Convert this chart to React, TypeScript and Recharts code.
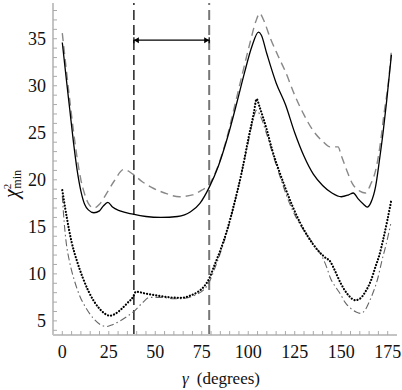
import { LineChart, Line, XAxis, YAxis, ReferenceLine, Label } from 'recharts'

// gamma (degrees) / chi^2_min readings, one pair of arrays per curve
const solidGamma = [0, 2, 4, 6, 8, 10, 12, 14, 17, 20, 22, 24.5, 27, 31, 38, 45, 53, 62, 69, 74, 79, 84, 89, 94, 98, 102, 105.5, 107, 110, 115, 120, 125, 130, 135, 140, 145, 150, 154, 156.5, 159, 162, 164, 166, 168.5, 170.5, 172.5, 174.5, 177]
const solidChi = [34.6, 31, 27.5, 24, 21, 18.8, 17.4, 16.8, 16.5, 16.7, 17.2, 17.6, 17.1, 16.7, 16.35, 16.1, 16.0, 16.1, 16.6, 17.5, 19.2, 21.5, 24.6, 28.3, 31.4, 34.2, 35.7, 35.4, 33.4, 30.3, 28.0, 25.0, 22.5, 20.6, 19.4, 18.6, 18.2, 18.4, 18.6, 18.0, 17.4, 17.1, 17.6, 19.3, 22, 25, 28.5, 33.3]

const dashedGamma = [0, 2, 4, 6, 8, 10, 12, 14, 17, 20, 24, 28, 33, 38, 43, 48, 55, 63, 70, 75, 79, 84, 88, 93, 97, 101, 104, 106.2, 108, 112, 116, 120, 125, 130, 135, 140, 144, 148.3, 150, 153, 156, 160, 163, 166, 168.5, 171, 173, 175.5, 177]
const dashedChi = [35.6, 32, 28.5, 25.2, 22.3, 20, 18.5, 17.5, 17.0, 17.4, 18.6, 19.9, 21.1, 20.6, 19.8, 19.2, 18.6, 18.2, 18.4, 18.9, 19.5, 21.6, 24.1, 28.1, 31.4, 34.6, 36.8, 37.7, 37.1, 35.0, 33.2, 31.5, 29.0, 26.9, 25.2, 24.1, 23.5, 23.5, 22.6, 21, 19.6, 18.8, 18.6, 19.6, 21, 23.8, 27, 30.6, 33.8]

const dottedGamma = [0, 2.5, 5, 8, 11, 14, 17, 20, 23, 25.5, 28, 32, 35, 38.2, 39.5, 45, 51, 58, 64, 69, 73, 76, 79, 82, 85, 88.7, 92, 96.8, 100.3, 103, 104.5, 106, 110, 113, 116.5, 120, 124, 128, 132, 137, 141, 144.5, 146, 150, 154, 157.5, 160, 163, 166, 168.5, 170.5, 172.5, 174.8, 177]
const dottedChi = [18.9, 15.9, 13.4, 11.3, 9.6, 8.2, 7.1, 6.3, 5.75, 5.55, 5.7, 6.3, 6.9, 7.6, 8.1, 7.9, 7.7, 7.5, 7.45, 7.7, 8.1, 8.6, 9.5, 11, 12.5, 14.7, 17.1, 21.1, 24.6, 27.1, 28.6, 27.8, 25.3, 23.1, 21.0, 19.1, 17.1, 15.4, 14, 12.6, 11.8, 11.2, 10.6, 8.9, 7.7, 7.2, 7.35, 8.1, 9.3, 10.8, 12, 13.6, 15.7, 17.9]

const dashDotGamma = [0, 1, 2, 4, 6.5, 9.5, 13, 17, 20.5, 23.5, 27, 31, 35, 38.5, 43, 47, 53, 60, 66, 72, 76, 79, 82, 85, 88.5, 92, 96.5, 100, 102.5, 104.5, 106.5, 110, 114, 118, 122, 126, 130, 135, 139.8, 142, 144.3, 147, 149.7, 152, 155, 158, 160.5, 163, 165, 167.5, 169.5, 172, 174, 176.6]
const dashDotChi = [18.3, 15.5, 13.5, 11.2, 9.3, 7.6, 6.3, 5.2, 4.6, 4.4, 4.6, 5.0, 5.5, 6.0, 6.9, 7.5, 7.5, 7.35, 7.4, 7.8, 8.3, 9.1, 10.6, 12.2, 14.4, 17, 20.8, 24, 26.3, 27.4, 26.8, 24.8, 22.2, 19.8, 17.6, 15.9, 14.6, 13.2, 11.8, 10.8, 9.5, 8.6, 7.8, 7, 6.35, 5.95, 5.8, 6.2, 7, 8.2, 9.4, 11.5, 13, 15.3]

// allowed band and its arrow
const bandLow = 38.5
const bandHigh = 79
const arrowChi = 34.85

const xLabelTicks = [0, 25, 50, 75, 100, 125, 150, 175]
const yLabelTicks = [5, 10, 15, 20, 25, 30, 35]
const xMinorTicks = Array.from({ length: 36 }, (_, i) => i * 5)
const yMinorTicks = Array.from({ length: 35 }, (_, i) => i + 4)

const rows = (gs: number[], cs: number[]) => gs.map((g, i) => ({ g, v: cs[i] }))

const frame = '#c4c4c4'
const serif = "'Times New Roman', 'Liberation Serif', 'DejaVu Serif', serif"

function ArrowShape(props: any) {
  const { x1, y1, x2 } = props
  const y = y1
  const h = 5
  const w = 3
  return (
    <g>
      <line x1={x1} y1={y} x2={x2} y2={y} stroke="#000" strokeWidth={1.2} />
      <path d={`M${x1},${y} L${x1 + h},${y - w} L${x1 + h},${y + w} Z`} fill="#000" />
      <path d={`M${x2},${y} L${x2 - h},${y - w} L${x2 - h},${y + w} Z`} fill="#000" />
      <line x1={x1} y1={y - 3} x2={x1} y2={y + 3} stroke="#000" strokeWidth={1.2} />
      <line x1={x2} y1={y - 3} x2={x2} y2={y + 3} stroke="#000" strokeWidth={1.2} />
    </g>
  )
}

const tickStyle = { fontSize: 18, fill: '#111', fontFamily: serif }

export default function App() {
  return (
    <div style={{ position: 'absolute', left: 0, top: 0, background: '#fff', fontFamily: serif }}>
      <LineChart width={402} height={390} margin={{ top: 3, right: 5, left: 0, bottom: 0 }} style={{ fontFamily: serif }}>
        <XAxis
          dataKey="g"
          type="number"
          domain={[-5, 180]}
          allowDataOverflow
          ticks={xMinorTicks}
          interval={0}
          tickFormatter={(v: number) => (xLabelTicks.includes(v) ? String(v) : '')}
          height={55}
          tickSize={-4}
          tickMargin={14}
          tick={tickStyle}
          axisLine={{ stroke: frame, strokeWidth: 2 }}
          tickLine={{ stroke: '#aaa' }}
        >
          <Label
            content={() => (
              <text x={221} y={384} textAnchor="middle" fontFamily={serif} fontSize={17} fill="#111">
                <tspan fontStyle="italic">γ</tspan>
                <tspan dx={8}>(degrees)</tspan>
              </text>
            )}
          />
        </XAxis>
        <XAxis
          xAxisId="top"
          orientation="top"
          type="number"
          domain={[-5, 180]}
          allowDataOverflow
          ticks={xMinorTicks}
          interval={0}
          tickFormatter={() => ''}
          height={0}
          mirror
          tickSize={3}
          axisLine={{ stroke: frame, strokeWidth: 2 }}
          tickLine={{ stroke: '#aaa' }}
        />
        <YAxis
          type="number"
          domain={[3.5, 38.8]}
          allowDataOverflow
          ticks={yMinorTicks}
          interval={0}
          tickFormatter={(v: number) => (yLabelTicks.includes(v) ? String(v) : '')}
          width={53}
          tickSize={-4}
          tickMargin={11}
          tick={tickStyle}
          axisLine={{ stroke: frame, strokeWidth: 2 }}
          tickLine={{ stroke: '#aaa' }}
        >
          <Label
            content={() => (
              <text transform="translate(18, 198) rotate(-90)" fontFamily={serif} fill="#111">
                <tspan fontSize={20} fontStyle="italic">χ</tspan>
                <tspan fontSize={11} dy={-7}>2</tspan>
                <tspan fontSize={12} dx={-5} dy={10}>min</tspan>
              </text>
            )}
          />
        </YAxis>
        <YAxis
          yAxisId="right"
          orientation="right"
          type="number"
          domain={[3.5, 38.8]}
          allowDataOverflow
          ticks={yMinorTicks}
          interval={0}
          tickFormatter={() => ''}
          width={0}
          mirror
          tickSize={3}
          axisLine={{ stroke: frame, strokeWidth: 2 }}
          tickLine={{ stroke: '#aaa' }}
        />

        <ReferenceLine x={bandLow} stroke="#000" strokeWidth={1.3} strokeDasharray="10 5" />
        <ReferenceLine x={bandHigh} stroke="#777" strokeWidth={2} strokeDasharray="10 5" />
        <ReferenceLine
          segment={[{ x: bandLow, y: arrowChi }, { x: bandHigh, y: arrowChi }]}
          shape={ArrowShape}
        />

        <Line
          data={rows(dashDotGamma, dashDotChi)}
          dataKey="v"
          type="monotone"
          stroke="#666"
          strokeWidth={1.1}
          strokeDasharray="7 3 1.5 3"
          dot={false}
          isAnimationActive={false}
        />
        <Line
          data={rows(dottedGamma, dottedChi)}
          dataKey="v"
          type="monotone"
          stroke="#000"
          strokeWidth={2.2}
          strokeLinecap="round"
          strokeDasharray="0.1 3"
          dot={false}
          isAnimationActive={false}
        />
        <Line
          data={rows(dashedGamma, dashedChi)}
          dataKey="v"
          type="monotone"
          stroke="#888"
          strokeWidth={1.4}
          strokeDasharray="8 5"
          dot={false}
          isAnimationActive={false}
        />
        <Line
          data={rows(solidGamma, solidChi)}
          dataKey="v"
          type="monotone"
          stroke="#000"
          strokeWidth={1.3}
          dot={false}
          isAnimationActive={false}
        />
      </LineChart>
    </div>
  )
}
